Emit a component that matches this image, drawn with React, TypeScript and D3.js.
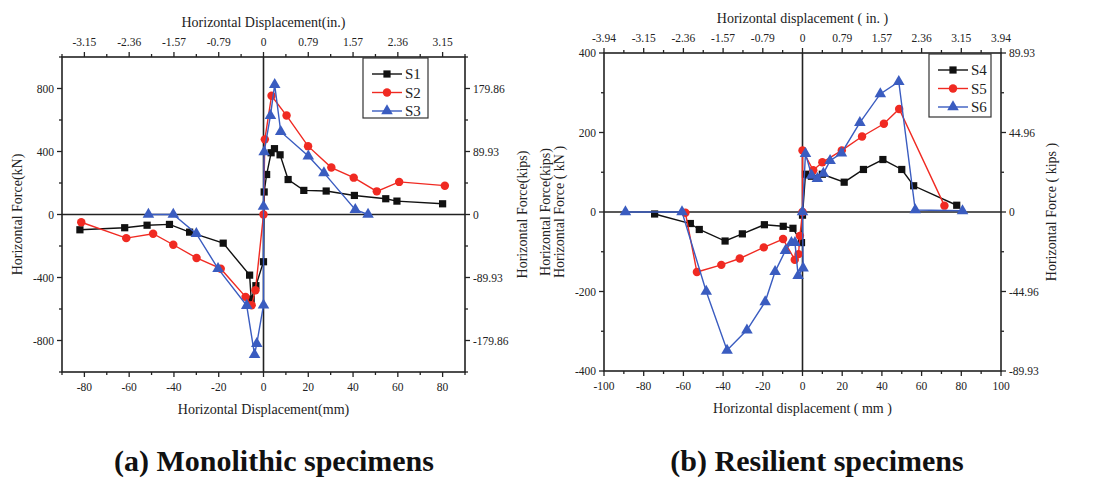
import { useEffect, useRef } from "react"
import { select, scaleLinear, line, symbol, symbolSquare, symbolCircle, symbolTriangle, range } from "d3"

// ---- data (mm / kN) ----
const s1Disp = [-82, -62, -52, -42, -33, -18, -6.2, -5.5, -3.4, 0, 0.3, 1.4, 3.4, 4.9, 7.4, 11, 18, 28, 40.6, 54.6, 59.6, 80]
const s1Force = [-97, -84, -68, -63, -112, -182, -385, -538, -452, -300, 143, 254, 392, 418, 379, 222, 153, 149, 121, 100, 85, 68]

const s2Disp = [-81.4, -61.3, -49.3, -40.3, -29.9, -19.1, -8, -5.3, -3.6, 0, 0.6, 3.6, 10.3, 19.9, 30.3, 40.3, 50.6, 60.6, 81]
const s2Force = [-49, -150, -122, -192, -276, -344, -523, -576, -481, 0, 477, 754, 628, 434, 298, 234, 147, 207, 183]

const s3Disp = [-51.4, -40.3, -30, -20.3, -7.5, -4, -3, 0, 0, 0.3, 3.1, 5, 7.7, 20, 27, 41, 46.7]
const s3Force = [0, 0, -122, -344, -578, -890, -820, -576, 52, 398, 628, 824, 526, 371, 264, 30, 0]

const s4Disp = [-74.5, -56.5, -52, -39, -30.3, -19.2, -9.7, -4.8, -0.5, 0, 1.5, 4.5, 10, 21, 30.7, 40.5, 50, 56, 77.7]
const s4Force = [-5, -29, -44, -73, -55, -32, -36, -41, -77, -8, 95, 90, 95, 75, 107, 132, 107, 66, 17]

const s5Disp = [-59, -53.2, -40.9, -31.6, -19.5, -9.8, -3.9, -2, -1.3, 0, 0, 5.4, 10, 19.8, 30, 41, 48.7, 71.5]
const s5Force = [-2, -151, -133, -117, -89, -68, -120, -106, -60, 0, 155, 105, 125, 155, 190, 222, 259, 16]

const s6Disp = [-89.2, -60.7, -48.5, -38, -28, -18.8, -13.8, -8.6, -5.6, -3.8, -2.2, 0.3, 0, 1.5, 4.6, 7.5, 10.5, 13.9, 19.6, 28.9, 39.2, 48.5, 56.8, 80.6]
const s6Force = [0, 0, -200, -348, -297, -226, -150, -97, -77, -77, -160, -141, 0, 147, 92, 84, 97, 129, 148, 225, 297, 328, 5, 3]

// ---- ticks ----
const leftMmTicks = [-80, -60, -40, -20, 0, 20, 40, 60, 80]
const leftInLabels = ["-3.15", "-2.36", "-1.57", "-0.79", "0", "0.79", "1.57", "2.36", "3.15"]
const leftKnTicks = [-800, -400, 0, 400, 800]
const leftKipsLabels = ["-179.86", "-89.93", "0", "89.93", "179.86"]

const rightMmTicks = [-100, -80, -60, -40, -20, 0, 20, 40, 60, 80, 100]
const rightInLabels = ["-3.94", "-3.15", "-2.36", "-1.57", "-0.79", "0", "0.79", "1.57", "2.36", "3.15", "3.94"]
const rightKnTicks = [-400, -200, 0, 200, 400]
const rightKipsLabels = ["-89.93", "-44.96", "0", "44.96", "89.93"]

const BLACK = "#111111"
const RED = "#f02a22"
const BLUE = "#3a5cc0"
const FONT = "'Liberation Serif', 'Times New Roman', serif"

export default function App() {
    const svgRef = useRef<SVGSVGElement>(null)

    const drawPanel = (svg: any, p: any) => {
        const g = svg.append("g")
        const x = scaleLinear(p.xDomain, [p.left, p.right])
        const y = scaleLinear(p.yDomain, [p.bottom, p.top])

        const allX = range(p.xDomain[0], p.xDomain[1] + 0.001, p.xMinorStep)
        const allY = range(p.yDomain[0], p.yDomain[1] + 0.001, p.yMinorStep)
        const isMajorX = (v: number) => p.xTicks.includes(v)
        const isMajorY = (v: number) => p.yTicks.includes(v)

        // zero lines
        g.append("line").attr("x1", x(0)).attr("x2", x(0)).attr("y1", p.top).attr("y2", p.bottom)
            .attr("stroke", "#222").attr("stroke-width", 1.6)
        g.append("line").attr("x1", p.left).attr("x2", p.right).attr("y1", y(0)).attr("y2", y(0))
            .attr("stroke", "#222").attr("stroke-width", 1.6)

        // frame
        g.append("rect").attr("x", p.left).attr("y", p.top)
            .attr("width", p.right - p.left).attr("height", p.bottom - p.top)
            .attr("fill", "none").attr("stroke", "#222").attr("stroke-width", 1.6)

        // ticks (outward)
        allX.forEach((v: number) => {
            const len = isMajorX(v) ? 5 : 3
            g.append("line").attr("x1", x(v)).attr("x2", x(v)).attr("y1", p.bottom).attr("y2", p.bottom + len)
                .attr("stroke", "#222").attr("stroke-width", 1.3)
            g.append("line").attr("x1", x(v)).attr("x2", x(v)).attr("y1", p.top).attr("y2", p.top - len)
                .attr("stroke", "#222").attr("stroke-width", 1.3)
        })
        allY.forEach((v: number) => {
            const len = isMajorY(v) ? 5 : 3
            g.append("line").attr("x1", p.left).attr("x2", p.left - len).attr("y1", y(v)).attr("y2", y(v))
                .attr("stroke", "#222").attr("stroke-width", 1.3)
            g.append("line").attr("x1", p.right).attr("x2", p.right + len).attr("y1", y(v)).attr("y2", y(v))
                .attr("stroke", "#222").attr("stroke-width", 1.3)
        })

        // tick labels
        const label = (tx: number, ty: number, text: string, anchor: string) =>
            g.append("text").attr("x", tx).attr("y", ty).attr("text-anchor", anchor)
                .attr("font-family", FONT).attr("font-size", 11.5).attr("fill", "#222").text(text)

        p.xTicks.forEach((v: number, i: number) => {
            label(x(v), p.bottom + 19, `${v}`, "middle")
            label(x(v), p.top - 11, p.topLabels[i], "middle")
        })
        p.yTicks.forEach((v: number, i: number) => {
            label(p.left - 8, y(v) + 4, `${v}`, "end")
            label(p.right + 8, y(v) + 4, p.rightLabels[i], "start")
        })

        // axis titles
        const title = (tx: number, ty: number, text: string, rotate = false) => {
            const t = g.append("text").attr("text-anchor", "middle")
                .attr("font-family", FONT).attr("font-size", 14).attr("fill", "#222").text(text)
            if (rotate) t.attr("transform", `translate(${tx},${ty}) rotate(-90)`)
            else t.attr("x", tx).attr("y", ty)
        }
        const cx = (p.left + p.right) / 2
        const cy = (p.top + p.bottom) / 2
        title(cx, p.bottom + 42, p.bottomTitle)
        title(cx, p.top - 30, p.topTitle)
        p.leftTitles.forEach((t: any) => title(t.x, cy, t.text, true))
        title(p.rightTitleX, cy, p.rightTitle, true)

        // series
        p.series.forEach((s: any) => {
            const pts = s.disp.map((d: number, i: number) => [x(d), y(s.force[i])])
            g.append("path").attr("d", line()(pts)).attr("fill", "none")
                .attr("stroke", s.color).attr("stroke-width", 1.4)
            g.selectAll(null).data(pts).join("path")
                .attr("transform", (d: number[]) => `translate(${d[0]},${d[1]})`)
                .attr("d", symbol(s.shape, s.size)())
                .attr("fill", s.color)
        })

        // legend
        const lg = g.append("g")
        lg.append("rect").attr("x", p.legend.x).attr("y", p.legend.y)
            .attr("width", p.legend.w).attr("height", p.legend.h)
            .attr("fill", "#fff").attr("stroke", "#333").attr("stroke-width", 1.2)
        p.series.forEach((s: any, i: number) => {
            const ly = p.legend.y + 16 + i * 18.5
            const lx = p.legend.x + 9
            lg.append("line").attr("x1", lx).attr("x2", lx + 30).attr("y1", ly).attr("y2", ly)
                .attr("stroke", s.color).attr("stroke-width", 1.4)
            lg.append("path").attr("transform", `translate(${lx + 15},${ly})`)
                .attr("d", symbol(s.shape, s.size)()).attr("fill", s.color)
            lg.append("text").attr("x", lx + 33).attr("y", ly + 5)
                .attr("font-family", FONT).attr("font-size", 15).attr("fill", "#222").text(s.name)
        })

        // caption
        g.append("text").attr("x", p.captionX).attr("y", 471).attr("text-anchor", "middle")
            .attr("font-family", FONT).attr("font-size", 30).attr("font-weight", "bold")
            .attr("fill", "#111").text(p.caption)
    }

    useEffect(() => {
        const svg = select(svgRef.current)
        svg.selectAll("*").remove()

        drawPanel(svg, {
            left: 62, right: 465, top: 57, bottom: 372,
            xDomain: [-90, 90], yDomain: [-1000, 1000],
            xMinorStep: 10, yMinorStep: 200,
            xTicks: leftMmTicks, topLabels: leftInLabels,
            yTicks: leftKnTicks, rightLabels: leftKipsLabels,
            bottomTitle: "Horizontal Displacement(mm)",
            topTitle: "Horizontal Displacement(in.)",
            leftTitles: [{ x: 22, text: "Horizontal Force(kN)" }],
            rightTitle: "Horizontal Force(kips)", rightTitleX: 527,
            legend: { x: 363, y: 58, w: 65, h: 60 },
            series: [
                { name: "S1", disp: s1Disp, force: s1Force, color: BLACK, shape: symbolSquare, size: 52 },
                { name: "S2", disp: s2Disp, force: s2Force, color: RED, shape: symbolCircle, size: 56 },
                { name: "S3", disp: s3Disp, force: s3Force, color: BLUE, shape: symbolTriangle, size: 58 },
            ],
            caption: "(a) Monolithic specimens", captionX: 274,
        })

        drawPanel(svg, {
            left: 604, right: 1001, top: 53, bottom: 371,
            xDomain: [-100, 100], yDomain: [-400, 400],
            xMinorStep: 10, yMinorStep: 100,
            xTicks: rightMmTicks, topLabels: rightInLabels,
            yTicks: rightKnTicks, rightLabels: rightKipsLabels,
            bottomTitle: "Horizontal displacement ( mm )",
            topTitle: "Horizontal displacement ( in. )",
            leftTitles: [
                { x: 550, text: "Horizontal Force(kips)" },
                { x: 564, text: "Horizontal Force ( kN )" },
            ],
            rightTitle: "Horizontal Force ( kips )", rightTitleX: 1056,
            legend: { x: 929, y: 54, w: 62, h: 63 },
            series: [
                { name: "S4", disp: s4Disp, force: s4Force, color: BLACK, shape: symbolSquare, size: 52 },
                { name: "S5", disp: s5Disp, force: s5Force, color: RED, shape: symbolCircle, size: 56 },
                { name: "S6", disp: s6Disp, force: s6Force, color: BLUE, shape: symbolTriangle, size: 58 },
            ],
            caption: "(b) Resilient specimens", captionX: 817,
        })
    }, [])

    return (
        <svg ref={svgRef} width={1101} height={480}
            style={{ position: "absolute", left: 0, top: 0, background: "#fff" }} />
    )
}
